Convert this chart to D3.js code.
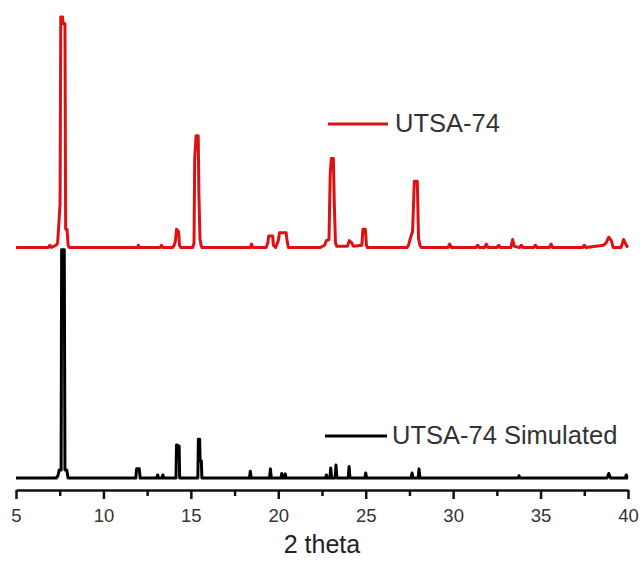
<!DOCTYPE html>
<html>
<head>
<meta charset="utf-8">
<script src="https://cdn.jsdelivr.net/npm/d3@7"></script>
<style>
  html, body { margin: 0; padding: 0; background: #fff; }
  svg { display: block; }
  text { font-family: "Liberation Sans", Arial, sans-serif; }
</style>
</head>
<body>
<svg id="chart" width="644" height="562"></svg>
<script>
// ---- DATA ----
const seriesNames = ["UTSA-74", "UTSA-74 Simulated"];

// Experimental pattern (2 theta, intensity)
const expTheta = [5.0, 6.85, 6.94, 7.02, 7.3, 7.38, 7.43, 7.52, 7.56, 7.66, 7.7, 7.8, 7.84, 7.92, 7.98, 8.05,
  11.95, 12.0, 12.05, 13.25, 13.32, 13.4, 13.95, 14.05, 14.12, 14.18, 14.3, 14.35, 14.42,
  15.1, 15.18, 15.22, 15.3, 15.42, 15.46, 15.52, 15.58, 15.64,
  18.4, 18.47, 18.55, 19.3, 19.4, 19.45, 19.68, 19.72, 19.85, 19.95, 20.0, 20.07, 20.45, 20.5, 20.58,
  22.4, 22.65, 22.75, 22.9, 22.97, 23.03, 23.15, 23.2, 23.27, 23.35,
  23.95, 24.06, 24.2, 24.3, 24.78, 24.84, 24.98, 25.04, 25.1,
  27.35, 27.45, 27.55, 27.68, 27.78, 27.95, 28.02, 28.1, 28.18,
  29.7, 29.8, 29.9, 31.3, 31.4, 31.5, 31.8, 31.9, 32.0, 32.5, 32.6, 32.7, 33.3, 33.4, 33.5, 33.8, 33.9, 34.0,
  34.6, 34.7, 34.8, 35.5, 35.6, 35.7, 37.4, 37.5, 37.6, 38.6, 38.75, 38.9, 39.05, 39.15, 39.6, 39.75, 39.9, 40.0];
const expInt = [0, 0, 1, 0, 1, 2, 8, 19, 101, 101, 98, 98, 8, 8, 1, 0,
  0, 1, 0, 0, 1, 0, 0, 1, 3, 8, 7, 1, 0,
  0, 2, 39, 49, 49, 24, 4, 1, 0,
  0, 1.5, 0, 0, 2, 5, 5, 1, 0, 2, 3, 6.5, 6.5, 3, 0,
  0, 1, 3, 3.5, 32, 39, 39, 20, 2, 0.5,
  0.5, 3, 2, 0.5, 1, 8, 8, 1, 0,
  0, 1, 4, 7, 29, 29, 4, 1, 0,
  0, 1.5, 0, 0, 1, 0, 0, 1.5, 0, 0, 1, 0, 0, 3.5, 0.5, 0, 1, 0,
  0, 1, 0, 0, 1.5, 0, 0, 1, 0, 1, 2, 4.5, 3, 0, 0, 3.5, 1, 0];

// Simulated pattern (2 theta, intensity)
const simTheta = [5.0, 7.3, 7.4, 7.47, 7.58, 7.61, 7.76, 7.8, 7.9, 7.98,
  11.85, 11.9, 12.05, 12.1, 13.05, 13.1, 13.15, 13.35, 13.4, 13.45,
  14.15, 14.18, 14.33, 14.36, 15.4, 15.43, 15.5, 15.53, 15.6, 15.63,
  18.35, 18.4, 18.45, 19.5, 19.55, 19.6, 20.15, 20.2, 20.25, 20.35, 20.4, 20.45,
  22.7, 22.75, 22.8, 22.95, 23.0, 23.05, 23.25, 23.3, 23.35, 24.0, 24.05, 24.1, 24.95, 25.0, 25.05,
  27.6, 27.65, 27.7, 28.0, 28.05, 28.1, 33.72, 33.77, 33.82, 38.8, 38.9, 39.0, 39.85, 39.9, 39.95, 40.0];
const simInt = [0, 0, 1, 3.5, 3.5, 100, 100, 3.5, 3.5, 0,
  0, 4, 4, 0, 0, 1.3, 0, 0, 1.3, 0,
  0, 14.5, 14, 0, 0, 17, 17, 7.5, 7.5, 0,
  0, 3, 0, 0, 4, 0, 0, 2, 0, 0, 1.8, 0,
  0, 1.3, 0, 0, 4.4, 0, 0, 5.7, 0, 0, 5, 0, 0, 2.2, 0,
  0, 2.2, 0, 0, 4, 0, 0, 1, 0, 0, 2, 0, 0, 1.3, 0, 0];

const expOffset = 101;
const majorTicks = [5, 10, 15, 20, 25, 30, 35, 40];
const minorTicks = [7.5, 12.5, 17.5, 22.5, 27.5, 32.5, 37.5];
const xTitle = "2 theta";

// ---- CHART ----
const svg = d3.select("#chart");
const x = d3.scaleLinear().domain([5, 40]).range([16, 628]);
const y = d3.scaleLinear().domain([0, 202]).range([478, 17]);

const line = d3.line().x(d => x(d[0])).y(d => y(d[1]));

const expData = expTheta.map((t, i) => [t, expInt[i] + expOffset]);
const simData = simTheta.map((t, i) => [t, simInt[i]]);

svg.append("path").datum(simData)
  .attr("d", line).attr("fill", "none")
  .attr("stroke", "#000").attr("stroke-width", 3).attr("stroke-linejoin", "round");

svg.append("path").datum(expData)
  .attr("d", line).attr("fill", "none")
  .attr("stroke", "#dd1111").attr("stroke-width", 3).attr("stroke-linejoin", "round");

// Axis
const axisY = 490;
const gMinor = svg.append("g").attr("transform", `translate(0,${axisY})`)
  .call(d3.axisBottom(x).tickValues(minorTicks).tickSize(6).tickFormat(""));
gMinor.select(".domain").remove();
gMinor.selectAll("line").attr("stroke", "#111").attr("stroke-width", 2.5);

const gMajor = svg.append("g").attr("transform", `translate(0,${axisY})`)
  .call(d3.axisBottom(x).tickValues(majorTicks).tickSize(9).tickSizeOuter(0).tickPadding(4));
gMajor.select(".domain").attr("stroke", "#111").attr("stroke-width", 2.5);
gMajor.selectAll(".tick line").attr("stroke", "#111").attr("stroke-width", 2.5);
gMajor.selectAll(".tick text")
  .attr("font-size", 18.5).attr("fill", "#333")
  .style("font-family", '"Liberation Sans", Arial, sans-serif')
  .attr("dy", null).attr("y", 32);

svg.append("text").attr("x", 322).attr("y", 553)
  .attr("text-anchor", "middle").attr("font-size", 25).attr("fill", "#222")
  .text(xTitle);

// Legends
const legends = [
  { name: seriesNames[0], color: "#dd1111", x1: 328, x2: 388, ly: 124, tx: 395, ty: 132 },
  { name: seriesNames[1], color: "#000", x1: 325, x2: 387, ly: 436, tx: 392, ty: 444 }
];
legends.forEach(l => {
  svg.append("line").attr("x1", l.x1).attr("x2", l.x2).attr("y1", l.ly).attr("y2", l.ly)
    .attr("stroke", l.color).attr("stroke-width", 3);
  svg.append("text").attr("x", l.tx).attr("y", l.ty)
    .attr("font-size", 25.5).attr("fill", "#333").text(l.name);
});
</script>
</body>
</html>
